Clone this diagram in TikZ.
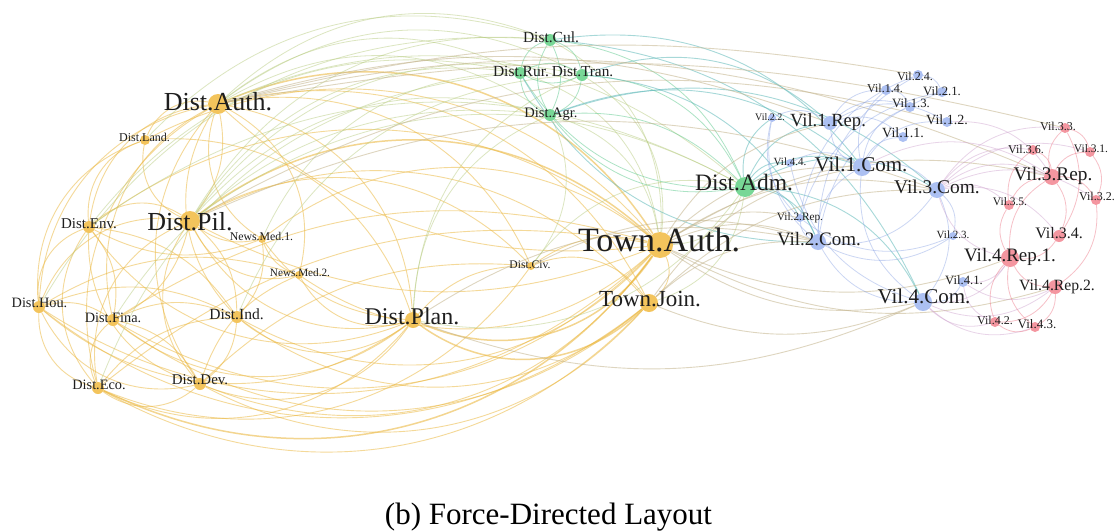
\documentclass[tikz,border=0pt]{standalone}
\usepackage{fontspec}
\setmainfont{Liberation Serif}
\usetikzlibrary{calc}
\pgfdeclarelayer{paper}
\pgfdeclarelayer{edges}
\pgfdeclarelayer{labels}
\pgfsetlayers{paper,edges,main,labels}

% node fills
\definecolor{nY}{RGB}{243,196,92}
\definecolor{nG}{RGB}{120,215,150}
\definecolor{nB}{RGB}{172,192,242}
\definecolor{nR}{RGB}{244,150,160}
% edge colours (mixed from the two end groups)
\definecolor{eY}{RGB}{236,186,70}
\definecolor{eYG}{RGB}{185,205,130}
\definecolor{eG}{RGB}{105,205,150}
\definecolor{eGB}{RGB}{95,185,185}
\definecolor{eYB}{RGB}{195,180,140}
\definecolor{eB}{RGB}{140,165,230}
\definecolor{eBR}{RGB}{205,160,205}
\definecolor{eR}{RGB}{238,130,145}
\definecolor{labc}{RGB}{30,30,30}

\tikzset{
  vtx/.style={circle, inner sep=0pt, draw=none, minimum size=#1},
  vy/.style={vtx=#1, fill=nY},
  vg/.style={vtx=#1, fill=nG},
  vb/.style={vtx=#1, fill=nB},
  vr/.style={vtx=#1, fill=nR},
  lbl/.style={anchor=base, inner sep=0pt, text=labc, font=\fontsize{#1}{#1}\selectfont},
  ey/.style={draw=eY, line width=0.9pt, draw opacity=0.55},
  eyk/.style={draw=eY, line width=1.5pt, draw opacity=0.6},
  eyg/.style={draw=eYG, line width=0.8pt, draw opacity=0.5},
  eg/.style={draw=eG, line width=0.8pt, draw opacity=0.55},
  egb/.style={draw=eGB, line width=0.9pt, draw opacity=0.55},
  eyb/.style={draw=eYB, line width=0.9pt, draw opacity=0.55},
  eb/.style={draw=eB, line width=0.8pt, draw opacity=0.45},
  ebr/.style={draw=eBR, line width=0.8pt, draw opacity=0.45},
  er/.style={draw=eR, line width=0.8pt, draw opacity=0.5},
}

% vertex: style, name, x, y, diameter, label x, label baseline, font size, text
\newcommand\V[9]{%
  \node[#1=#5] (#2) at (#3,#4) {};
  \begin{pgfonlayer}{labels}
    \node[lbl=#8] (#2-t) at (#6,#7) {#9};
  \end{pgfonlayer}}

% curved link bending away from (ctr) by the given angle (negative: towards it)
\newcommand\lnk[4][38]{%
  \draw[#2] let \p1=(#3), \p2=(#4), \p3=(ctr),
    \n1={-(#1)*sign(((\x1-\x3)/100)*((\y2-\y3)/100)-((\y1-\y3)/100)*((\x2-\x3)/100))}
    in (#3) to[bend left=\n1] (#4);}

\begin{document}
\begin{tikzpicture}[x=1pt, y=-1pt]
\useasboundingbox (0,0) rectangle (1116,530);
\begin{pgfonlayer}{paper}
  \fill[white] (0,0) rectangle (1116,530);
\end{pgfonlayer}

% district and town actors
\V{vy}{DAuth}{218}{104}{20}{218}{110.7}{26}{Dist.Auth.}
\V{vy}{DLand}{145}{140}{10}{144.5}{141.7}{12}{Dist.Land.}
\V{vy}{DPil}{190}{221}{20}{190}{230}{26}{Dist.Pil.}
\V{vy}{DEnv}{89}{227}{12}{89}{228.3}{15}{Dist.Env.}
\V{vy}{NMa}{262}{239}{8}{261.5}{240.7}{11.8}{News.Med.1.}
\V{vy}{NMb}{299}{275}{8}{300}{276}{11.2}{News.Med.2.}
\V{vy}{DHou}{39}{307}{12}{39.5}{307.3}{14.3}{Dist.Hou.}
\V{vy}{DFina}{113}{320}{12}{113}{322.7}{14.3}{Dist.Fina.}
\V{vy}{DInd}{237}{317}{12}{236.5}{319.3}{15.5}{Dist.Ind.}
\V{vy}{DEco}{98}{388}{12}{99}{389.3}{14.3}{Dist.Eco.}
\V{vy}{DDev}{200}{384}{12}{200}{384}{14.9}{Dist.Dev.}
\V{vy}{DPlan}{413}{320}{16}{412}{324}{24}{Dist.Plan.}
\V{vy}{DCiv}{531}{266}{8}{530}{268}{11.6}{Dist.Civ.}
\V{vy}{TAuth}{660}{245}{26}{659}{251.7}{34}{Town.Auth.}
\V{vy}{TJoin}{649}{303}{18}{650}{306.7}{23}{Town.Join.}

\V{vg}{DCul}{550}{40}{12}{551}{42.7}{15.5}{Dist.Cul.}
\V{vg}{DRur}{520}{73}{12}{521}{76}{15.5}{Dist.Rur.}
\V{vg}{DTran}{582}{75}{12}{582.5}{76}{15.3}{Dist.Tran.}
\V{vg}{DAgr}{550}{115}{12}{551}{117.3}{14.5}{Dist.Agr.}
\V{vg}{DAdm}{745}{187}{20}{744}{190}{23.5}{Dist.Adm.}

% village actors
\V{vb}{V24}{918}{75}{10}{915}{80}{12}{Vil.2.4.}
\V{vb}{V14}{886}{90}{10}{885}{92.7}{12}{Vil.1.4.}
\V{vb}{V21}{942}{92}{10}{942}{95}{12.7}{Vil.2.1.}
\V{vb}{V13}{910}{107}{10}{911}{107.7}{12.7}{Vil.1.3.}
\V{vb}{V12}{947}{122}{10}{947}{124.3}{14}{Vil.1.2.}
\V{vb}{V11}{903}{137}{10}{903}{137.3}{14}{Vil.1.1.}
\V{vb}{V22}{772}{118}{8}{770}{120}{10}{Vil.2.2.}
\V{vb}{V1Rep}{830}{123}{14}{828}{126.7}{18.6}{Vil.1.Rep.}
\V{vb}{V44}{790}{163}{8}{790}{165}{11}{Vil.4.4.}
\V{vb}{V1Com}{862}{167}{18}{861}{171.7}{21}{Vil.1.Com.}
\V{vb}{V3Com}{937}{190}{16}{937}{193.3}{19.4}{Vil.3.Com.}
\V{vb}{V2Rep}{800}{218}{8}{800}{220}{11.3}{Vil.2.Rep.}
\V{vb}{V2Com}{818}{242}{16}{819}{245}{19}{Vil.2.Com.}
\V{vb}{V23}{953}{236}{8}{953}{238.3}{11}{Vil.2.3.}
\V{vb}{V41}{963}{282}{10}{964}{284}{12.7}{Vil.4.1.}
\V{vb}{V4Com}{923}{302}{18}{924}{303.3}{21}{Vil.4.Com.}

\V{vr}{V33}{1065}{128}{10}{1058}{130}{12}{Vil.3.3.}
\V{vr}{V36}{1033}{150}{10}{1026}{153.3}{12}{Vil.3.6.}
\V{vr}{V31}{1090}{152}{10}{1091}{152.7}{11.5}{Vil.3.1.}
\V{vr}{V3Rep}{1052}{177}{16}{1053}{180.7}{19.3}{Vil.3.Rep.}
\V{vr}{V35}{1009}{205}{10}{1010}{205.3}{11.5}{Vil.3.5.}
\V{vr}{V32}{1096}{200}{10}{1097}{200}{12}{Vil.3.2.}
\V{vr}{V34}{1059}{236}{12}{1059}{238.3}{16}{Vil.3.4.}
\V{vr}{V4Rep1}{1010}{258}{18}{1010}{261.7}{19}{Vil.4.Rep.1.}
\V{vr}{V4Rep2}{1055}{287}{14}{1057}{290.7}{15.7}{Vil.4.Rep.2.}
\V{vr}{V42}{995}{322}{10}{995}{324}{12}{Vil.4.2.}
\V{vr}{V43}{1035}{327}{10}{1037}{328.3}{13}{Vil.4.3.}

\begin{pgfonlayer}{edges}
  % district cluster
  \coordinate (ctr) at (280,260);
  \foreach \a/\b in {DAuth/DLand, DAuth/DEnv, DAuth/DHou, DAuth/DFina, DAuth/DEco,
      DAuth/DDev, DAuth/DInd, DAuth/NMa, DAuth/NMb, DAuth/DPlan, DAuth/DCiv,
      DAuth/TJoin, DPil/DLand, DPil/DEnv, DPil/DHou, DPil/DEco, DPil/DDev,
      DPil/DPlan, DPil/DCiv, DPil/TJoin, DPil/NMb, DLand/DHou, DLand/DEnv,
      DLand/TAuth, DLand/DPlan, DEnv/DHou, DEnv/DEco, DEnv/DDev, DEnv/DPlan,
      DEnv/TAuth, DHou/DEco, DHou/DDev, DHou/DPlan, DHou/TAuth, DHou/TJoin,
      DFina/DEco, DFina/DPlan, DFina/TAuth, DFina/TJoin, DInd/DPlan, DInd/TAuth,
      DInd/TJoin, DEco/DDev, DEco/DPlan, DEco/TJoin, DEco/DCiv, DDev/DPlan,
      DDev/TAuth, DDev/TJoin, NMa/TAuth, NMb/TAuth, NMb/DPlan, DCiv/TJoin, TAuth/TJoin}
    {\lnk{ey}{\a}{\b}}
  \foreach \a/\b in {DAuth/TAuth, DPil/TAuth, DEco/TAuth, DPlan/TAuth, DPlan/TJoin}
    {\lnk[40]{eyk}{\a}{\b}}
  \foreach \a/\b in {DAuth/DPil, DPil/DFina, DPil/DInd, DPil/NMa, DEnv/DFina,
      DEnv/DInd, DEnv/NMa, DHou/DFina, DHou/DInd, DFina/DInd, DFina/DDev,
      DInd/DEco, DInd/DDev, DInd/NMa, NMa/NMb, DAuth/TAuth, DPil/TAuth,
      DEco/TAuth, DHou/NMb, DDev/NMb, DPlan/DCiv, NMa/DPlan, DDev/DCiv,
      DCiv/TAuth, DFina/TAuth}
    {\lnk[-24]{ey}{\a}{\b}}
  % district cluster to sector offices
  \coordinate (ctr) at (450,300);
  \foreach \a/\b in {DAuth/DCul, DAuth/DRur, DAuth/DTran, DAuth/DAgr, DPil/DCul,
      DPil/DRur, DPil/DTran, DPil/DAgr, DLand/DCul, DEnv/DRur, DHou/DCul,
      DEco/DRur, DPlan/DAgr, DPlan/DTran, TAuth/DAgr, TAuth/DRur, TAuth/DCul,
      TAuth/DTran, DCiv/DAgr, NMa/DRur, DInd/DTran, DFina/DAgr, DAuth/DAdm,
      DPil/DAdm, TAuth/DAdm, TJoin/DAdm, DPlan/DAdm, DEnv/DAdm, DCiv/DAdm}
    {\lnk[32]{eyg}{\a}{\b}}
  \coordinate (ctr) at (560,90);
  \foreach \a/\b in {DCul/DRur, DCul/DTran, DCul/DAgr, DRur/DTran, DRur/DAgr,
      DTran/DAgr, DAdm/DCul, DAdm/DRur, DAdm/DTran, DAdm/DAgr}
    {\lnk[30]{eg}{\a}{\b}}
  \foreach \a/\b in {DCul/DAgr, DRur/DTran, DAdm/DAgr}
    {\lnk[-25]{eg}{\a}{\b}}
  % sector offices to villages
  \coordinate (ctr) at (800,230);
  \foreach \a/\b in {DAdm/V1Rep, DAdm/V1Com, DAdm/V2Com, DAdm/V2Rep, DAdm/V4Com,
      DAdm/V3Com, DAdm/V22, DAdm/V44, DAgr/V1Com, DRur/V2Com, DTran/V1Rep,
      DCul/V4Com, DAgr/V3Com, DTran/V2Com, DCul/V1Com}
    {\lnk[30]{egb}{\a}{\b}}
  % town to villages
  \coordinate (ctr) at (800,250);
  \foreach \a/\b in {TAuth/V1Com, TAuth/V2Com, TAuth/V3Com, TAuth/V4Com,
      TAuth/V1Rep, TAuth/V2Rep, TAuth/V3Rep, TAuth/V4Rep1, TAuth/V4Rep2,
      TJoin/V1Com, TJoin/V2Com, TJoin/V4Com, TJoin/V3Com, DPlan/V2Com,
      DPlan/V4Com, DPil/V3Com, DCiv/V2Com, DPil/V12}
    {\lnk[22]{eyb}{\a}{\b}}
  \foreach \a/\b in {DAuth/V1Rep, DAuth/V3Rep}
    {\lnk[18]{eyb}{\a}{\b}}
  \foreach \a/\b in {DAuth/V24, DAuth/V33}
    {\lnk[12]{eyb}{\a}{\b}}
  % village clusters
  \coordinate (ctr) at (880,190);
  \foreach \a/\b in {V1Com/V11, V1Com/V12, V1Com/V13, V1Com/V14, V1Com/V1Rep,
      V1Com/V44, V1Com/V2Com, V1Com/V3Com, V1Com/V4Com, V1Rep/V11, V1Rep/V12,
      V1Rep/V13, V1Rep/V14, V1Rep/V22, V2Com/V21, V2Com/V22, V2Com/V23,
      V2Com/V24, V2Com/V2Rep, V2Com/V4Com, V2Com/V3Com, V2Rep/V21, V2Rep/V23,
      V2Rep/V24, V4Com/V44, V4Com/V3Com, V24/V21, V14/V13, V4Com/V41,
      V2Rep/V22, V3Com/V23}
    {\lnk[30]{eb}{\a}{\b}}
  \coordinate (ctr) at (1000,220);
  \foreach \a/\b in {V3Com/V31, V3Com/V32, V3Com/V33, V3Com/V34, V3Com/V35,
      V3Com/V36, V3Com/V3Rep, V4Com/V42, V4Com/V43, V4Com/V4Rep1, V4Com/V4Rep2,
      V1Com/V3Rep, V3Com/V4Rep1, V41/V4Rep1, V41/V4Rep2, V41/V42, V12/V3Rep}
    {\lnk[30]{ebr}{\a}{\b}}
  \coordinate (ctr) at (1050,240);
  \foreach \a/\b in {V3Rep/V31, V3Rep/V32, V3Rep/V33, V3Rep/V34, V3Rep/V35,
      V3Rep/V36, V3Rep/V4Rep1, V33/V31, V36/V35, V4Rep1/V42, V4Rep1/V43,
      V4Rep1/V4Rep2, V4Rep1/V34, V4Rep1/V35, V4Rep2/V42, V4Rep2/V43,
      V4Rep2/V32, V42/V43, V33/V34, V31/V32}
    {\lnk[30]{er}{\a}{\b}}
\end{pgfonlayer}

\node[anchor=base, inner sep=0pt, font=\fontsize{31}{31}\selectfont] (caption)
  at (548.5,524) {(b) Force-Directed Layout};
\end{tikzpicture}
\end{document}
